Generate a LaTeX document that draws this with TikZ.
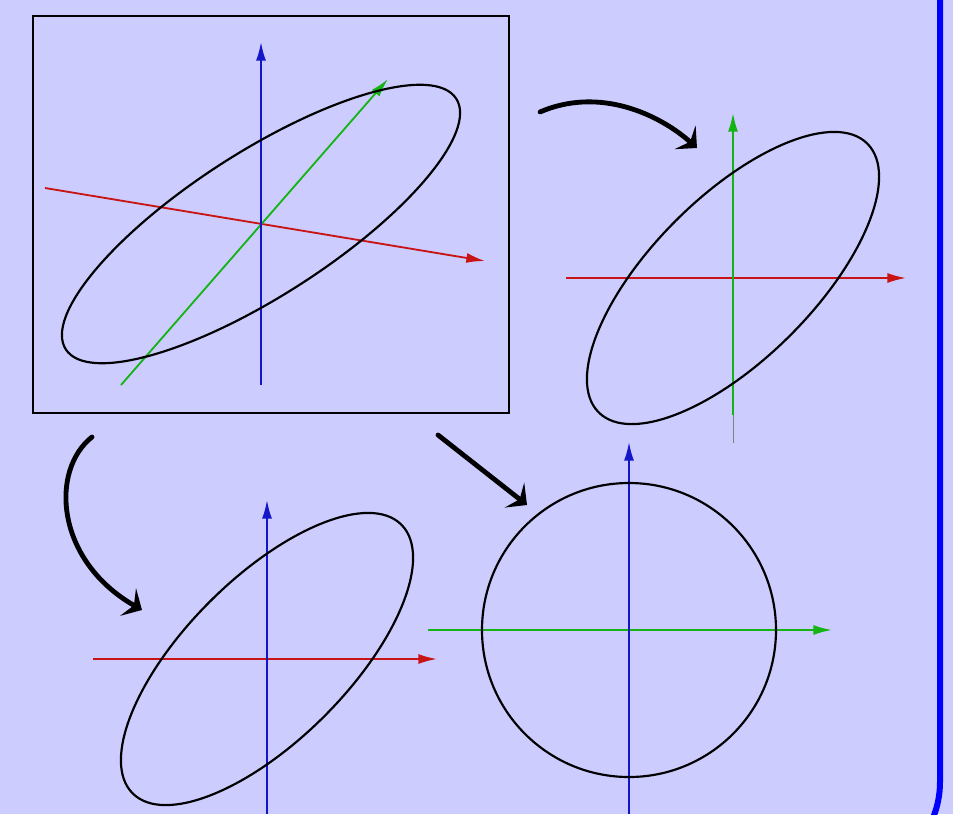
\documentclass[tikz,border=0pt]{standalone}
\usetikzlibrary{arrows.meta}
\definecolor{lavender}{RGB}{204,204,255}
\definecolor{frameblue}{RGB}{0,0,255}
\definecolor{axred}{RGB}{200,20,20}
\definecolor{axgreen}{RGB}{20,180,20}
\definecolor{axblue}{RGB}{20,20,200}

\begin{document}
\begin{tikzpicture}[x=0.3mm,y=-0.3mm,
    axis/.style={line width=0.55mm,-{Latex[length=5.6mm,width=3mm]}},
    curve/.style={line width=0.65mm},
    bendarrow/.style={line width=1.45mm,line cap=round,-{Stealth[length=4.8mm,width=9.5mm,inset=2mm]}}]
  \fill[lavender] (0,0) rectangle (953,814);
  \useasboundingbox (0,0) rectangle (953,814);
  \begin{scope}
    \clip (0,0) rectangle (953,814);
    \draw[frameblue,line width=1.8mm,rounded corners=28.5mm] (-200,-200) rectangle (940,877);
  \end{scope}

  \draw[curve] (33,16) rectangle (509,413);
  \draw[axis,axred] (45,188) -- (485,261);
  \draw[axis,axgreen] (121,385) -- (388,79);
  \draw[axis,axblue] (261,385) -- (261,42);
  \draw[curve,rotate around={32.7:(261,224)}] (261,224) ellipse [x radius=232,y radius=72];

  \draw[axis,axred] (566,278) -- (906,278);
  \draw[gray,line width=0.3mm] (733,443) -- (733,278);
  \draw[axis,axgreen] (733,415) -- (733,113);
  \draw[curve,rotate around={45:(733,278)}] (733,278) ellipse [x radius=190,y radius=81];

  \draw[axis,axred] (93,659) -- (437,659);
  \draw[axis,axblue] (267,814) -- (267,500);
  \draw[curve,rotate around={45:(267,659)}] (267,659) ellipse [x radius=190,y radius=81];

  \draw[axis,axgreen] (428,630) -- (832,630);
  \draw[axis,axblue] (629,814) -- (629,442);
  \draw[curve] (629,630) circle [radius=147];

  \coordinate (a1) at (540,112);
  \coordinate (a2) at (697,148);
  \coordinate (b1) at (92,437);
  \coordinate (b2) at (142,610);
  \coordinate (d1) at (438,435);
  \coordinate (d2) at (527,505);
  \draw[bendarrow] (a1) .. controls (600,86) and (660,115) .. (a2);
  \draw[bendarrow] (b1) .. controls (50,470) and (55,560) .. (b2);
  \draw[bendarrow] (d1) -- (d2);
\end{tikzpicture}
\end{document}
